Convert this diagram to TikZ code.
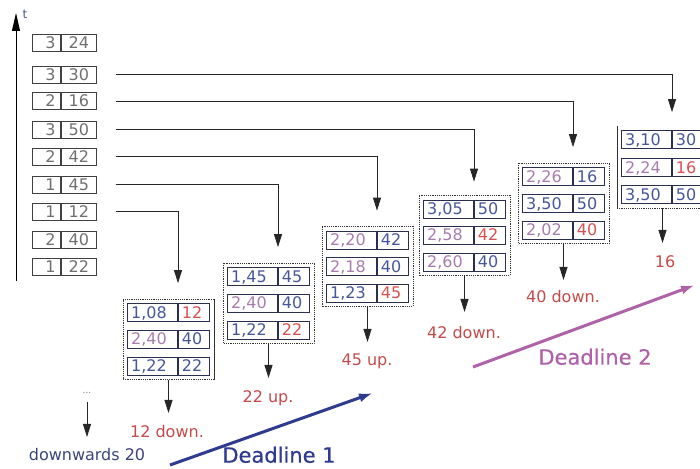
\documentclass[tikz,border=0pt]{standalone}
\usepackage{fontspec}
\usetikzlibrary{arrows.meta,fit}
\newfontfamily\dv{DejaVu Sans}
\newfontfamily\dvb[FakeBold=0.6]{DejaVu Sans}
\definecolor{boxc}{HTML}{2B2F4F}
\definecolor{bluet}{HTML}{46569A}
\definecolor{purt}{HTML}{A87CAE}
\definecolor{redt}{HTML}{D85050}
\definecolor{labred}{HTML}{C44A4A}
\definecolor{lgray}{HTML}{707070}
\definecolor{lborder}{HTML}{404040}
\definecolor{dwn}{HTML}{39457A}
\definecolor{dlone}{HTML}{2E3B8F}
\definecolor{dltwo}{HTML}{B062A8}
\tikzset{
  txt/.style={font=\dv\fontsize{16}{16}\selectfont, text height=11.7pt, text depth=0pt},
  cellL/.style={txt, draw=boxc, line width=0.8pt, minimum height=18pt, inner ysep=0pt,
    inner xsep=3.5pt, text width=43pt, align=left, anchor=east},
  cellR/.style={txt, draw=boxc, line width=0.8pt, minimum height=18pt, inner ysep=0pt,
    inner xsep=3.5pt, text width=24pt, align=left, anchor=west},
  lcL/.style={txt, text=lgray, draw=lborder, line width=0.7pt, minimum height=17pt, inner ysep=0pt,
    inner xsep=5pt, text width=18pt, align=right, anchor=east},
  lcR/.style={txt, text=lgray, draw=lborder, line width=0.7pt, minimum height=17pt, inner ysep=0pt,
    inner xsep=5pt, text width=25pt, align=center, anchor=west},
  grp/.style={inner xsep=4pt, inner ysep=4pt},
  dots/.style={draw=black!80, line width=0.8pt, dash pattern=on 1.2pt off 1pt},
  conn/.style={draw=black!85, line width=0.8pt, -{Triangle[length=13pt,width=8pt]}},
  res/.style={txt, text=labred, inner sep=0pt},
  deadl/.style={line width=3pt, -{Latex[length=14pt,width=9pt]}},
  dltext/.style={font=\dvb\fontsize{21}{21}\selectfont, text height=15.3pt, text depth=0pt, inner sep=0pt},
}
% one queue entry: name, divider x, y, left text, left colour, right text, right colour
\newcommand\qrow[7]{%
  \node[cellL, text=#5] (#1a) at (#2,#3) {#4};
  \node[cellR, text=#7] (#1b) at (#2,#3) {#6};
}
\begin{document}
\begin{tikzpicture}[x=1pt,y=-1pt]
\useasboundingbox (0,0) rectangle (700,468);

% time axis
\coordinate (axb) at (16,281);
\coordinate (axt) at (16,13);
\draw[line width=0.9pt, -{Triangle[length=18pt,width=8pt]}] (axb) -- (axt);
\node[font=\dv\fontsize{12}{12}\selectfont, text=dwn!70!gray, inner sep=0pt] (tl) at (25,14) {t};

% incoming jobs
\foreach \nm/\yy/\a/\b in {l24/42.5/3/24, l30/74.5/3/30, l16/101/2/16, l50/129.5/3/50,
  l42/156.5/2/42, l45/184.5/1/45, l12/211.5/1/12, l40/239.5/2/40, l22/266.5/1/22}{
  \node[lcL] (\nm a) at (61,\yy) {\a};
  \node[lcR] (\nm b) at (61,\yy) {\b};
}

% queue states
\qrow{ga1}{178}{312.5}{1,08}{bluet}{12}{redt}
\qrow{ga2}{178}{339}{2,40}{purt}{40}{bluet}
\qrow{ga3}{178}{366}{1,22}{bluet}{22}{bluet}

\qrow{gb1}{278}{276.5}{1,45}{bluet}{45}{bluet}
\qrow{gb2}{278}{303}{2,40}{purt}{40}{bluet}
\qrow{gb3}{278}{330}{1,22}{bluet}{22}{redt}

\qrow{gc1}{377}{240}{2,20}{purt}{42}{bluet}
\qrow{gc2}{377}{266.5}{2,18}{purt}{40}{bluet}
\qrow{gc3}{377}{293}{1,23}{bluet}{45}{redt}

\qrow{gd1}{474}{209}{3,05}{bluet}{50}{bluet}
\qrow{gd2}{474}{235}{2,58}{purt}{42}{redt}
\qrow{gd3}{474}{262}{2,60}{purt}{40}{bluet}

\qrow{ge1}{573}{176.5}{2,26}{purt}{16}{bluet}
\qrow{ge2}{573}{203.5}{3,50}{bluet}{50}{bluet}
\qrow{ge3}{573}{230}{2,02}{purt}{40}{redt}

\qrow{gf1}{672}{139.5}{3,10}{bluet}{30}{bluet}
\qrow{gf2}{672}{167.5}{2,24}{purt}{16}{redt}
\qrow{gf3}{672}{194.5}{3,50}{bluet}{50}{bluet}

% frames round the queue states
\node[grp, fit=(ga1a)(ga3b)] (ga) {};
\node[grp, fit=(gb1a)(gb3b)] (gb) {};
\node[grp, fit=(gc1a)(gc3b)] (gc) {};
\node[grp, fit=(gd1a)(gd3b)] (gd) {};
\node[grp, fit=(ge1a)(ge3b)] (ge) {};
\node[grp, fit=(gf1a)(gf3b)] (gf) {};
\draw[dots] (ga.north east) -- (ga.north west) -- (ga.south west) -- (ga.south east);
\draw[black!80, line width=0.8pt] (ga.north east) -- (ga.south east);
\draw[dots] (gb.north west) rectangle (gb.south east);
\draw[dots] (gc.north west) rectangle (gc.south east);
\draw[dots] (gd.north west) rectangle (gd.south east);
\draw[dots] (ge.north west) rectangle (ge.south east);
\draw[black!80, line width=0.8pt] (gf.north west) -- (gf.south west);
\draw[dots] (gf.south west) -- (gf.south east);

% arrivals
\draw[conn, shorten <=19pt, shorten >=20pt] (l12b.east) -| (ga1a.north east);
\draw[conn, shorten <=19pt, shorten >=20pt] (l45b.east) -| (gb1a.north east);
\draw[conn, shorten <=19pt, shorten >=20pt] (l42b.east) -| (gc1a.north east);
\draw[conn, shorten <=19pt, shorten >=18pt] (l50b.east) -| (gd1a.north east);
\draw[conn, shorten <=19pt, shorten >=20pt] (l16b.east) -| (ge1a.north east);
\draw[conn, shorten <=19pt, shorten >=18pt] (l30b.east) -| (gf1a.north east);

% results
\node[res] (oa) at (167,432) {12 down.};
\node[res] (ob) at (268,397) {22 up.};
\node[res] (oc) at (367,360) {45 up.};
\node[res] (od) at (464,333) {42 down.};
\node[res] (oe) at (563,297) {40 down.};
\node[res] (of) at (665,262) {16};
\draw[conn, shorten >=13pt] (ga.south) -- (ga.south |- oa.north);
\draw[conn, shorten >=13pt] (gb.south) -- (gb.south |- ob.north);
\draw[conn, shorten >=12pt] (gc.south) -- (gc.south |- oc.north);
\draw[conn, shorten >=15pt] (gd.south) -- (gd.south |- od.north);
\draw[conn, shorten >=11pt] (ge.south) -- (ge.south |- oe.north);
\draw[conn, shorten >=13pt] (gf.south) -- (gf.south |- of.north);

% earlier steps
\node[font=\dv\fontsize{9}{9}\selectfont, text=lgray, inner sep=0pt, text height=2pt, text depth=0pt] (dt) at (87,392) {...};
\node[txt, text=dwn, inner sep=0pt] (dw) at (87,455) {downwards 20};
\draw[conn, shorten <=9pt, shorten >=12pt] (dt.south) -- (dw.north);

% deadlines
\coordinate (dla) at (170,465);
\coordinate (dlb) at (373,393);
\draw[deadl, dlone] (dla) -- (dlb);
\node[dltext, text=dlone] (dlt) at (279,455) {Deadline 1};
\coordinate (dlc) at (473,367);
\coordinate (dld) at (695,285);
\draw[deadl, dltwo] (dlc) -- (dld);
\node[dltext, text=dltwo] (dlu) at (595,357) {Deadline 2};
\end{tikzpicture}
\end{document}
